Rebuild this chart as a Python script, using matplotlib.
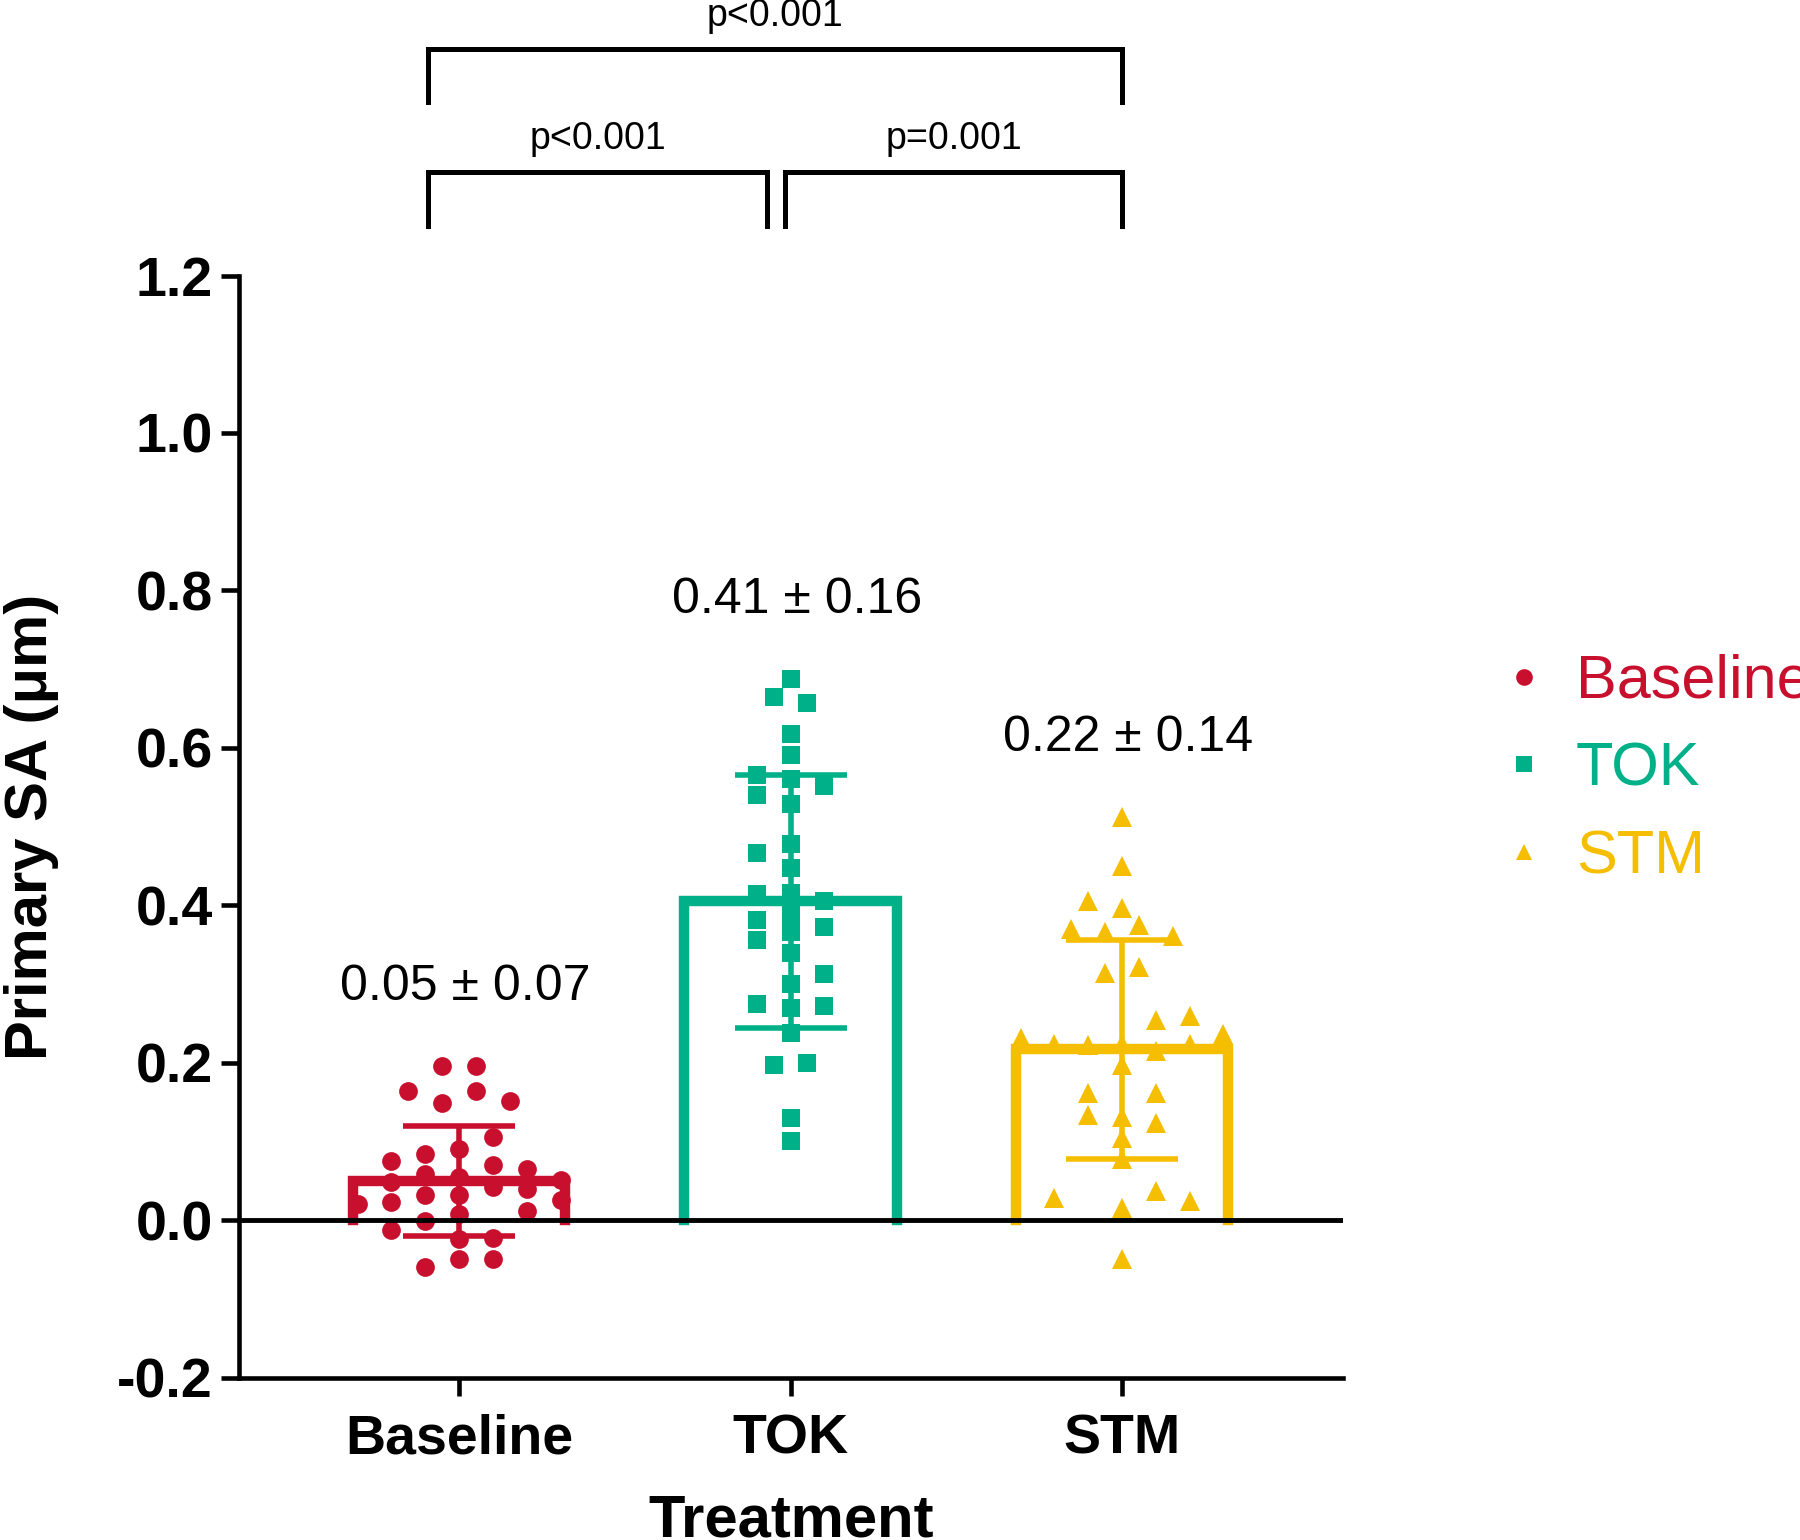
import numpy as np
import matplotlib
matplotlib.use("Agg")
import matplotlib.pyplot as plt
from matplotlib.lines import Line2D

plt.rcParams['font.family'] = ['Liberation Sans', 'DejaVu Sans']

groups = ['Baseline', 'TOK', 'STM']
colors = ['#C8102E', '#00B088', '#F5BE00']
markers = ['o', 's', '^']

# individual values and their swarm lane
baseline_vals = [0.196, 0.196, 0.164, 0.164, 0.149, 0.151, 0.105, 0.090, 0.075, 0.084,
                 0.070, 0.065, 0.049, 0.058, 0.055, 0.042, 0.039, 0.051, 0.021, 0.023,
                 0.032, 0.032, 0.025, 0.011, 0.008, -0.001, -0.012, -0.024, -0.023,
                 -0.049, -0.050, -0.059]
baseline_lanes = [-0.5, 0.5, -1.5, 0.5, -0.5, 1.5, 1, 0, -2, -1,
                  1, 2, -2, -1, 0, 1, 2, 3, -3, -2,
                  -1, 0, 3, 2, 0, -1, -2, 0, 1,
                  0, 1, -1]

tok_vals = [0.688, 0.665, 0.657, 0.618, 0.591, 0.566, 0.560, 0.552, 0.540, 0.528,
            0.466, 0.478, 0.447, 0.414, 0.416, 0.405, 0.381, 0.389, 0.372, 0.356,
            0.366, 0.339, 0.313, 0.300, 0.274, 0.270, 0.272, 0.238, 0.197, 0.200,
            0.130, 0.100]
tok_lanes = [0, -0.5, 0.5, 0, 0, -1, 0, 1, -1, 0,
             -1, 0, 0, -1, 0, 1, -1, 0, 1, -1,
             0, 0, 1, 0, -1, 0, 1, 0, -0.5, 0.5,
             0, 0]

stm_vals = [0.512, 0.450, 0.406, 0.397, 0.370, 0.366, 0.375, 0.361, 0.314, 0.321,
            0.254, 0.259, 0.237, 0.231, 0.224, 0.222, 0.224, 0.215, 0.224, 0.197,
            0.161, 0.161, 0.133, 0.131, 0.123, 0.104, 0.078, 0.028, 0.037, 0.024,
            0.015, -0.050]
stm_lanes = [0, 0, -1, 0, -1.5, -0.5, 0.5, 1.5, -0.5, 0.5,
             1, 2, 3, -3, -2, -1, 0, 1, 2, 0,
             -1, 1, -1, 0, 1, 0, 0, -2, 1, 2,
             0, 0]

means = [0.05, 0.405, 0.217]
sds = [0.07, 0.161, 0.139]
mean_labels = ['0.05 ± 0.07', '0.41 ± 0.16', '0.22 ± 0.14']

# significance brackets: (left, right, label)
comparisons = [(0, 1, 'p<0.001'), (1, 2, 'p=0.001'), (0, 2, 'p<0.001')]

values = [baseline_vals, tok_vals, stm_vals]
lanes = [baseline_lanes, tok_lanes, stm_lanes]

fig = plt.figure(figsize=(18, 15.4), dpi=100)
ax = fig.add_axes([0.1328, 0.1055, 0.6133, 0.7156])

x = np.arange(len(groups))
lane_w = 0.102
bar_w = 0.64

for i in range(len(groups)):
    # open bar, no bottom edge (sits on the zero line)
    xl, xr = x[i] - bar_w / 2, x[i] + bar_w / 2
    ax.plot([xl, xl, xr, xr], [0, means[i], means[i], 0], color=colors[i], lw=7.5,
            solid_joinstyle='miter', zorder=2)
    xs = x[i] + np.array(lanes[i]) * lane_w
    ax.plot(xs, values[i], linestyle='none', marker=markers[i], color=colors[i],
            ms=13.5 if markers[i] != '^' else 14, mew=0, zorder=3)
    ax.errorbar(x[i], means[i], yerr=sds[i], color=colors[i], elinewidth=4,
                capsize=40, capthick=4, zorder=4)
    ax.text(x[i] + 0.02, max(values[i]) + 0.1, mean_labels[i], ha='center', va='center',
            fontsize=36)

ax.axhline(0, color='black', lw=3.5, zorder=5)

# brackets above the plot
lvl_lo, lvl_hi = 1.331, 1.488
for a, b, lab in comparisons:
    if b - a == 2:
        y = lvl_hi
        xl, xr = x[a] - 0.094, x[b]
    elif a == 0:
        y = lvl_lo
        xl, xr = x[a] - 0.094, x[b] - 0.07
    else:
        y = lvl_lo
        xl, xr = x[a] - 0.016, x[b]
    ax.plot([xl, xl, xr, xr], [y - 0.068, y, y, y - 0.068], color='black', lw=3.6,
            clip_on=False, solid_joinstyle='miter')
    ax.text((xl + xr) / 2, y + 0.042, lab, ha='center', va='center', fontsize=27)

ax.set_xlim(-0.664, 2.667)
ax.set_ylim(-0.2, 1.2)
ax.set_yticks(np.arange(-0.2, 1.21, 0.2))
ax.set_yticklabels(['%.1f' % v if v > -0.01 else '-0.2' for v in np.arange(-0.2, 1.21, 0.2)])
ax.set_xticks(x)
ax.set_xticklabels(groups)
for lab in ax.get_xticklabels() + ax.get_yticklabels():
    lab.set_fontweight('bold')
    lab.set_fontsize(40)
ax.tick_params(axis='both', width=3.3, length=13, direction='out', pad=6)
ax.tick_params(axis='x', pad=13)
for s in ['top', 'right']:
    ax.spines[s].set_visible(False)
for s in ['left', 'bottom']:
    ax.spines[s].set_linewidth(3.3)

ax.set_xlabel('Treatment', fontsize=43, fontweight='bold', labelpad=20)
ax.set_ylabel('Primary SA (μm)', fontsize=43, fontweight='bold', labelpad=42)

handles = [Line2D([], [], linestyle='none', marker=m, color=c, ms=12, mew=0)
           for m, c in zip(markers, colors)]
ax.legend(handles, groups, loc='center left', bbox_to_anchor=(0.833, 0.5),
          bbox_transform=fig.transFigure, frameon=False, fontsize=44,
          labelcolor=colors, handlelength=0.8, handletextpad=0.45,
          labelspacing=0.5, borderpad=0, borderaxespad=0)

fig.savefig('out.png', dpi=100)
